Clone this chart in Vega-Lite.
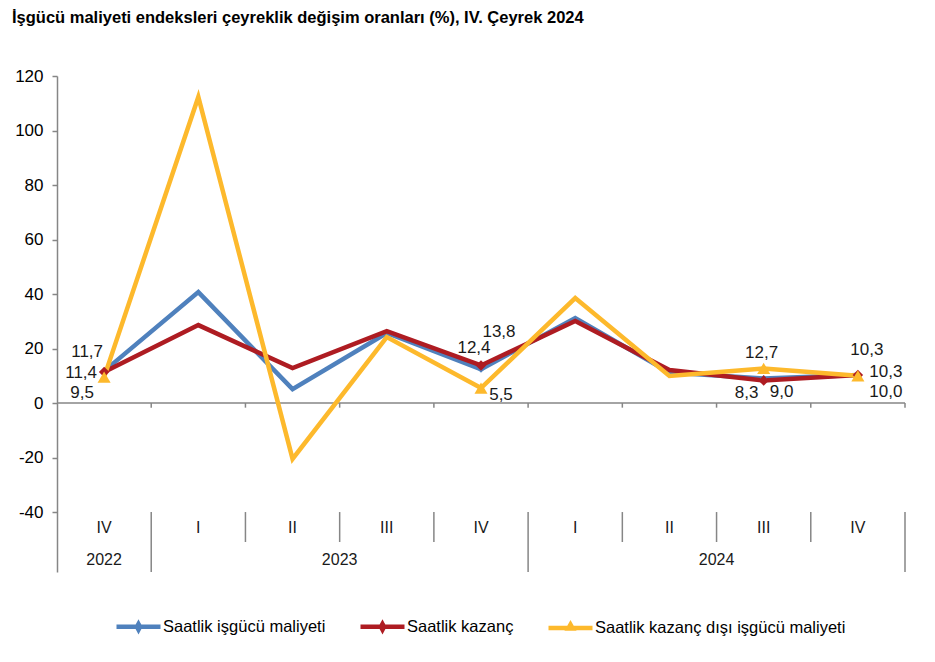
{
  "$schema": "https://vega.github.io/schema/vega-lite/v6.json",
  "width": 848,
  "height": 496,
  "autosize": "none",
  "padding": {"left": 57, "top": 76, "right": 30, "bottom": 90},
  "title": {"text": "İşgücü maliyeti endeksleri çeyreklik değişim oranları (%), IV. Çeyrek 2024", "anchor": "start", "frame": "group", "dx": -45, "offset": 41, "fontSize": 16.5, "fontWeight": "bold", "font": "Liberation Sans", "color": "#000000"},
  "config": {
    "view": {"stroke": null},
    "font": "Liberation Sans",
    "locale": {"number": {"decimal": ",", "thousands": ".", "grouping": [3], "currency": ["", " TL"], "minus": "-"}}
  },
  "datasets": {
    "main": [
      {"i": 0, "q": "IV", "year": "2022", "series": "Saatlik işgücü maliyeti", "value": 11.7},
      {"i": 1, "q": "I", "year": "2023", "series": "Saatlik işgücü maliyeti", "value": 40.7},
      {"i": 2, "q": "II", "year": "2023", "series": "Saatlik işgücü maliyeti", "value": 5.1},
      {"i": 3, "q": "III", "year": "2023", "series": "Saatlik işgücü maliyeti", "value": 25.7},
      {"i": 4, "q": "IV", "year": "2023", "series": "Saatlik işgücü maliyeti", "value": 12.4},
      {"i": 5, "q": "I", "year": "2024", "series": "Saatlik işgücü maliyeti", "value": 31.2},
      {"i": 6, "q": "II", "year": "2024", "series": "Saatlik işgücü maliyeti", "value": 11.2},
      {"i": 7, "q": "III", "year": "2024", "series": "Saatlik işgücü maliyeti", "value": 9.0},
      {"i": 8, "q": "IV", "year": "2024", "series": "Saatlik işgücü maliyeti", "value": 10.3},
      {"i": 0, "q": "IV", "year": "2022", "series": "Saatlik kazanç", "value": 11.4},
      {"i": 1, "q": "I", "year": "2023", "series": "Saatlik kazanç", "value": 28.6},
      {"i": 2, "q": "II", "year": "2023", "series": "Saatlik kazanç", "value": 12.8},
      {"i": 3, "q": "III", "year": "2023", "series": "Saatlik kazanç", "value": 26.4},
      {"i": 4, "q": "IV", "year": "2023", "series": "Saatlik kazanç", "value": 13.8},
      {"i": 5, "q": "I", "year": "2024", "series": "Saatlik kazanç", "value": 30.1},
      {"i": 6, "q": "II", "year": "2024", "series": "Saatlik kazanç", "value": 12.1},
      {"i": 7, "q": "III", "year": "2024", "series": "Saatlik kazanç", "value": 8.3},
      {"i": 8, "q": "IV", "year": "2024", "series": "Saatlik kazanç", "value": 10.3},
      {"i": 0, "q": "IV", "year": "2022", "series": "Saatlik kazanç dışı işgücü maliyeti", "value": 9.5},
      {"i": 1, "q": "I", "year": "2023", "series": "Saatlik kazanç dışı işgücü maliyeti", "value": 112.3},
      {"i": 2, "q": "II", "year": "2023", "series": "Saatlik kazanç dışı işgücü maliyeti", "value": -20.5},
      {"i": 3, "q": "III", "year": "2023", "series": "Saatlik kazanç dışı işgücü maliyeti", "value": 24.2},
      {"i": 4, "q": "IV", "year": "2023", "series": "Saatlik kazanç dışı işgücü maliyeti", "value": 5.5},
      {"i": 5, "q": "I", "year": "2024", "series": "Saatlik kazanç dışı işgücü maliyeti", "value": 38.5},
      {"i": 6, "q": "II", "year": "2024", "series": "Saatlik kazanç dışı işgücü maliyeti", "value": 9.9},
      {"i": 7, "q": "III", "year": "2024", "series": "Saatlik kazanç dışı işgücü maliyeti", "value": 12.7},
      {"i": 8, "q": "IV", "year": "2024", "series": "Saatlik kazanç dışı işgücü maliyeti", "value": 10.0}
    ],
    "bounds": [
      {"i": 0.5, "kind": "year"},
      {"i": 1.5, "kind": "quarter"},
      {"i": 2.5, "kind": "quarter"},
      {"i": 3.5, "kind": "quarter"},
      {"i": 4.5, "kind": "year"},
      {"i": 5.5, "kind": "quarter"},
      {"i": 6.5, "kind": "quarter"},
      {"i": 7.5, "kind": "quarter"},
      {"i": 8.5, "kind": "year"}
    ]
  },
  "data": {"name": "main"},
  "layer": [
    {
      "data": {"values": [{"zero": 0}]},
      "mark": {"type": "rule", "color": "#868686", "strokeWidth": 1.5},
      "encoding": {
        "y": {"field": "zero", "type": "quantitative", "scale": {"domain": [-62, 120], "nice": false, "zero": false},
          "axis": {"title": null, "values": [-40, -20, 0, 20, 40, 60, 80, 100, 120], "grid": false, "domainColor": "#868686", "domainWidth": 1.5, "tickColor": "#868686", "tickWidth": 1.5, "tickSize": 5, "labelFontSize": 17, "labelColor": "#000000", "labelPadding": 9, "format": "d"}}
      }
    },
    {
      "data": {"name": "bounds"},
      "mark": {"type": "rule", "color": "#868686", "strokeWidth": 1.5},
      "encoding": {
        "x": {"field": "i", "type": "quantitative", "scale": {"domain": [-0.5, 8.5], "nice": false, "zero": false}, "axis": null},
        "y": {"datum": 0, "type": "quantitative", "scale": {"domain": [-62, 120], "nice": false, "zero": false}},
        "y2": {"datum": -1.7}
      }
    },
    {
      "data": {"name": "bounds"},
      "transform": [{"filter": "datum.kind === 'quarter'"}],
      "mark": {"type": "rule", "color": "#868686", "strokeWidth": 1.5},
      "encoding": {
        "x": {"field": "i", "type": "quantitative", "scale": {"domain": [-0.5, 8.5], "nice": false, "zero": false}, "axis": null},
        "y": {"datum": -40, "type": "quantitative", "scale": {"domain": [-62, 120], "nice": false, "zero": false}},
        "y2": {"datum": -51}
      }
    },
    {
      "data": {"name": "bounds"},
      "transform": [{"filter": "datum.kind === 'year'"}],
      "mark": {"type": "rule", "color": "#868686", "strokeWidth": 1.5},
      "encoding": {
        "x": {"field": "i", "type": "quantitative", "scale": {"domain": [-0.5, 8.5], "nice": false, "zero": false}, "axis": null},
        "y": {"datum": -40, "type": "quantitative", "scale": {"domain": [-62, 120], "nice": false, "zero": false}},
        "y2": {"datum": -62}
      }
    },
    {
      "mark": {"type": "line", "strokeWidth": 4.5, "strokeJoin": "miter"},
      "encoding": {
        "x": {"field": "i", "type": "quantitative", "scale": {"domain": [-0.5, 8.5], "nice": false, "zero": false}, "axis": null},
        "y": {"field": "value", "type": "quantitative", "scale": {"domain": [-62, 120], "nice": false, "zero": false}},
        "color": {"field": "series", "type": "nominal",
          "scale": {"domain": ["Saatlik işgücü maliyeti", "Saatlik kazanç", "Saatlik kazanç dışı işgücü maliyeti"], "range": ["#4F81BD", "#AE1C22", "#FDB92C"]},
          "legend": {"title": null, "orient": "none", "legendX": 57, "legendY": 526, "direction": "horizontal", "symbolType": "stroke", "symbolSize": 1936, "symbolStrokeWidth": 4.5, "labelFontSize": 16.5, "labelColor": "#000000", "labelOffset": 0, "columnPadding": 25, "labelLimit": 400,
            "encode": {"symbols": {"update": {"shape": {"signal": "datum.label === 'Saatlik kazanç dışı işgücü maliyeti' ? 'M-1,0L1,0M0,-0.16L0.1,0.02L-0.1,0.02Z' : 'M-1,0L1,0M0,-0.13L0.07,0L0,0.13L-0.07,0Z'"}}}}}}
      }
    },
    {
      "transform": [{"filter": "datum.series === 'Saatlik işgücü maliyeti' && (datum.i === 0 || datum.i === 4 || datum.i === 7 || datum.i === 8)"}],
      "mark": {"type": "point", "shape": "diamond", "filled": true, "size": 50, "color": "#4F81BD", "opacity": 1},
      "encoding": {
        "x": {"field": "i", "type": "quantitative", "scale": {"domain": [-0.5, 8.5], "nice": false, "zero": false}, "axis": null},
        "y": {"field": "value", "type": "quantitative", "scale": {"domain": [-62, 120], "nice": false, "zero": false}}
      }
    },
    {
      "transform": [{"filter": "datum.series === 'Saatlik kazanç' && (datum.i === 0 || datum.i === 4 || datum.i === 7 || datum.i === 8)"}],
      "mark": {"type": "point", "shape": "diamond", "filled": true, "size": 110, "color": "#AE1C22", "opacity": 1},
      "encoding": {
        "x": {"field": "i", "type": "quantitative", "scale": {"domain": [-0.5, 8.5], "nice": false, "zero": false}, "axis": null},
        "y": {"field": "value", "type": "quantitative", "scale": {"domain": [-62, 120], "nice": false, "zero": false}}
      }
    },
    {
      "transform": [{"filter": "datum.series === 'Saatlik kazanç dışı işgücü maliyeti' && (datum.i === 0 || datum.i === 4 || datum.i === 7 || datum.i === 8)"}],
      "mark": {"type": "point", "shape": "triangle-up", "filled": true, "size": 170, "color": "#FDB92C", "opacity": 1},
      "encoding": {
        "x": {"field": "i", "type": "quantitative", "scale": {"domain": [-0.5, 8.5], "nice": false, "zero": false}, "axis": null},
        "y": {"field": "value", "type": "quantitative", "scale": {"domain": [-62, 120], "nice": false, "zero": false}}
      }
    },
    {"transform": [{"filter": "datum.series === 'Saatlik işgücü maliyeti' && datum.i === 0"}], "mark": {"type": "text", "fontSize": 17, "color": "#1a1a1a", "align": "center", "baseline": "middle", "dx": -17, "dy": -19}, "encoding": {"x": {"field": "i", "type": "quantitative", "scale": {"domain": [-0.5, 8.5], "nice": false, "zero": false}, "axis": null}, "y": {"field": "value", "type": "quantitative", "scale": {"domain": [-62, 120], "nice": false, "zero": false}}, "text": {"field": "value", "type": "quantitative", "format": ".1f"}}},
    {"transform": [{"filter": "datum.series === 'Saatlik kazanç' && datum.i === 0"}], "mark": {"type": "text", "fontSize": 17, "color": "#1a1a1a", "align": "center", "baseline": "middle", "dx": -23, "dy": 1}, "encoding": {"x": {"field": "i", "type": "quantitative", "scale": {"domain": [-0.5, 8.5], "nice": false, "zero": false}, "axis": null}, "y": {"field": "value", "type": "quantitative", "scale": {"domain": [-62, 120], "nice": false, "zero": false}}, "text": {"field": "value", "type": "quantitative", "format": ".1f"}}},
    {"transform": [{"filter": "datum.series === 'Saatlik kazanç dışı işgücü maliyeti' && datum.i === 0"}], "mark": {"type": "text", "fontSize": 17, "color": "#1a1a1a", "align": "center", "baseline": "middle", "dx": -22, "dy": 16}, "encoding": {"x": {"field": "i", "type": "quantitative", "scale": {"domain": [-0.5, 8.5], "nice": false, "zero": false}, "axis": null}, "y": {"field": "value", "type": "quantitative", "scale": {"domain": [-62, 120], "nice": false, "zero": false}}, "text": {"field": "value", "type": "quantitative", "format": ".1f"}}},
    {"transform": [{"filter": "datum.series === 'Saatlik işgücü maliyeti' && datum.i === 4"}], "mark": {"type": "text", "fontSize": 17, "color": "#1a1a1a", "align": "center", "baseline": "middle", "dx": -7, "dy": -21}, "encoding": {"x": {"field": "i", "type": "quantitative", "scale": {"domain": [-0.5, 8.5], "nice": false, "zero": false}, "axis": null}, "y": {"field": "value", "type": "quantitative", "scale": {"domain": [-62, 120], "nice": false, "zero": false}}, "text": {"field": "value", "type": "quantitative", "format": ".1f"}}},
    {"transform": [{"filter": "datum.series === 'Saatlik kazanç' && datum.i === 4"}], "mark": {"type": "text", "fontSize": 17, "color": "#1a1a1a", "align": "center", "baseline": "middle", "dx": 18, "dy": -33}, "encoding": {"x": {"field": "i", "type": "quantitative", "scale": {"domain": [-0.5, 8.5], "nice": false, "zero": false}, "axis": null}, "y": {"field": "value", "type": "quantitative", "scale": {"domain": [-62, 120], "nice": false, "zero": false}}, "text": {"field": "value", "type": "quantitative", "format": ".1f"}}},
    {"transform": [{"filter": "datum.series === 'Saatlik kazanç dışı işgücü maliyeti' && datum.i === 4"}], "mark": {"type": "text", "fontSize": 17, "color": "#1a1a1a", "align": "center", "baseline": "middle", "dx": 20, "dy": 7}, "encoding": {"x": {"field": "i", "type": "quantitative", "scale": {"domain": [-0.5, 8.5], "nice": false, "zero": false}, "axis": null}, "y": {"field": "value", "type": "quantitative", "scale": {"domain": [-62, 120], "nice": false, "zero": false}}, "text": {"field": "value", "type": "quantitative", "format": ".1f"}}},
    {"transform": [{"filter": "datum.series === 'Saatlik işgücü maliyeti' && datum.i === 7"}], "mark": {"type": "text", "fontSize": 17, "color": "#1a1a1a", "align": "center", "baseline": "middle", "dx": 18, "dy": 13}, "encoding": {"x": {"field": "i", "type": "quantitative", "scale": {"domain": [-0.5, 8.5], "nice": false, "zero": false}, "axis": null}, "y": {"field": "value", "type": "quantitative", "scale": {"domain": [-62, 120], "nice": false, "zero": false}}, "text": {"field": "value", "type": "quantitative", "format": ".1f"}}},
    {"transform": [{"filter": "datum.series === 'Saatlik kazanç' && datum.i === 7"}], "mark": {"type": "text", "fontSize": 17, "color": "#1a1a1a", "align": "center", "baseline": "middle", "dx": -17, "dy": 13}, "encoding": {"x": {"field": "i", "type": "quantitative", "scale": {"domain": [-0.5, 8.5], "nice": false, "zero": false}, "axis": null}, "y": {"field": "value", "type": "quantitative", "scale": {"domain": [-62, 120], "nice": false, "zero": false}}, "text": {"field": "value", "type": "quantitative", "format": ".1f"}}},
    {"transform": [{"filter": "datum.series === 'Saatlik kazanç dışı işgücü maliyeti' && datum.i === 7"}], "mark": {"type": "text", "fontSize": 17, "color": "#1a1a1a", "align": "center", "baseline": "middle", "dx": -2, "dy": -15}, "encoding": {"x": {"field": "i", "type": "quantitative", "scale": {"domain": [-0.5, 8.5], "nice": false, "zero": false}, "axis": null}, "y": {"field": "value", "type": "quantitative", "scale": {"domain": [-62, 120], "nice": false, "zero": false}}, "text": {"field": "value", "type": "quantitative", "format": ".1f"}}},
    {"transform": [{"filter": "datum.series === 'Saatlik işgücü maliyeti' && datum.i === 8"}], "mark": {"type": "text", "fontSize": 17, "color": "#1a1a1a", "align": "center", "baseline": "middle", "dx": 9, "dy": -25}, "encoding": {"x": {"field": "i", "type": "quantitative", "scale": {"domain": [-0.5, 8.5], "nice": false, "zero": false}, "axis": null}, "y": {"field": "value", "type": "quantitative", "scale": {"domain": [-62, 120], "nice": false, "zero": false}}, "text": {"field": "value", "type": "quantitative", "format": ".1f"}}},
    {"transform": [{"filter": "datum.series === 'Saatlik kazanç' && datum.i === 8"}], "mark": {"type": "text", "fontSize": 17, "color": "#1a1a1a", "align": "center", "baseline": "middle", "dx": 28, "dy": -3}, "encoding": {"x": {"field": "i", "type": "quantitative", "scale": {"domain": [-0.5, 8.5], "nice": false, "zero": false}, "axis": null}, "y": {"field": "value", "type": "quantitative", "scale": {"domain": [-62, 120], "nice": false, "zero": false}}, "text": {"field": "value", "type": "quantitative", "format": ".1f"}}},
    {"transform": [{"filter": "datum.series === 'Saatlik kazanç dışı işgücü maliyeti' && datum.i === 8"}], "mark": {"type": "text", "fontSize": 17, "color": "#1a1a1a", "align": "center", "baseline": "middle", "dx": 28, "dy": 16}, "encoding": {"x": {"field": "i", "type": "quantitative", "scale": {"domain": [-0.5, 8.5], "nice": false, "zero": false}, "axis": null}, "y": {"field": "value", "type": "quantitative", "scale": {"domain": [-62, 120], "nice": false, "zero": false}}, "text": {"field": "value", "type": "quantitative", "format": ".1f"}}},
    {
      "transform": [{"filter": "datum.series === 'Saatlik işgücü maliyeti'"}],
      "mark": {"type": "text", "fontSize": 16, "color": "#1a1a1a", "align": "center", "baseline": "middle"},
      "encoding": {
        "x": {"field": "i", "type": "quantitative", "scale": {"domain": [-0.5, 8.5], "nice": false, "zero": false}, "axis": null},
        "y": {"datum": -45.9, "type": "quantitative", "scale": {"domain": [-62, 120], "nice": false, "zero": false}},
        "text": {"field": "q", "type": "nominal"}
      }
    },
    {
      "transform": [{"filter": "datum.series === 'Saatlik işgücü maliyeti'"}, {"aggregate": [{"op": "mean", "field": "i", "as": "i"}], "groupby": ["year"]}],
      "mark": {"type": "text", "fontSize": 16, "color": "#1a1a1a", "align": "center", "baseline": "middle"},
      "encoding": {
        "x": {"field": "i", "type": "quantitative", "scale": {"domain": [-0.5, 8.5], "nice": false, "zero": false}, "axis": null},
        "y": {"datum": -57.6, "type": "quantitative", "scale": {"domain": [-62, 120], "nice": false, "zero": false}},
        "text": {"field": "year", "type": "nominal"}
      }
    }
  ]
}
